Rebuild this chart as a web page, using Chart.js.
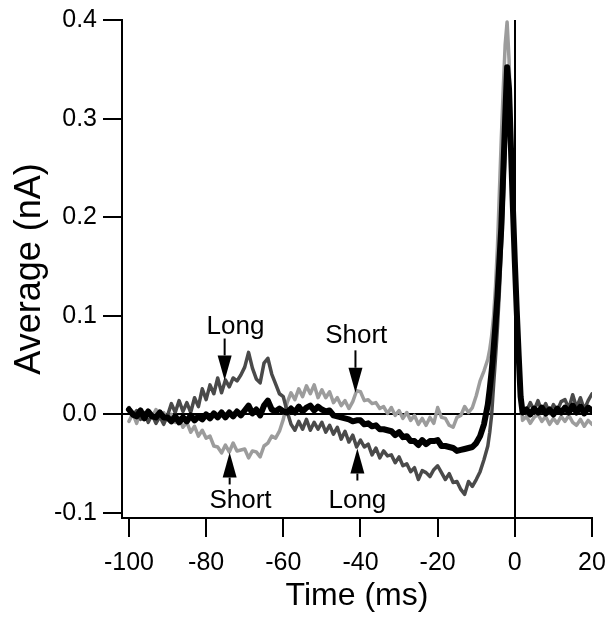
<!DOCTYPE html>
<html><head><meta charset="utf-8">
<script src="https://cdn.jsdelivr.net/npm/chart.js@4/dist/chart.umd.min.js"></script>
<style>html,body{margin:0;padding:0;background:#fff}canvas{display:block}</style>
</head><body>
<canvas id="c" width="613" height="623"></canvas>
<script>
// Time (ms)
const times = [
  -100,-99,-98,-97,-96,-95,-94,-93,-92,-91,
  -90,-89,-88,-87,-86,-85,-84,-83,-82,-81,
  -80,-79,-78,-77,-76,-75,-74,-73,-72,-71,
  -70,-69,-68,-67,-66,-65,-64,-63,-62,-61,
  -60,-59,-58,-57,-56,-55,-54,-53,-52,-51,
  -50,-49,-48,-47,-46,-45,-44,-43,-42,-41,
  -40,-39,-38,-37,-36,-35,-34,-33,-32,-31,
  -30,-29,-28,-27,-26,-25,-24,-23,-22,-21,
  -20,-19,-18,-17,-16,-15,-14,-13,-12,-11,
  -10,-9,-8,-7,-6.5,-6,-5.5,-5,-4.5,-4,-3.5,-3,-2.5,-2,-1.5,-1,-0.5,0,0.5,1,1.5,2,
  3,4,5,6,7,8,9,10,11,12,13,14,15,16,17,18,19,20
];
// "Long" trace (dark gray), nA
const longTrace = [
  0.007,-0.001,0.004,-0.005,0.002,-0.008,0.000,-0.009,-0.002,-0.010,
  -0.001,0.011,0.002,0.014,0.003,0.012,0.002,0.017,0.008,0.026,
  0.015,0.030,0.021,0.037,0.022,0.035,0.028,0.037,0.034,0.040,
  0.048,0.063,0.047,0.036,0.032,0.052,0.057,0.041,0.031,0.021,
  0.018,0.003,-0.010,-0.016,-0.007,-0.015,-0.005,-0.016,-0.008,-0.015,
  -0.008,-0.018,-0.011,-0.020,-0.013,-0.025,-0.017,-0.028,-0.021,-0.033,
  -0.026,-0.033,-0.030,-0.041,-0.034,-0.044,-0.037,-0.042,-0.041,-0.049,
  -0.043,-0.052,-0.050,-0.058,-0.054,-0.066,-0.057,-0.059,-0.063,-0.056,
  -0.052,-0.059,-0.066,-0.060,-0.069,-0.068,-0.076,-0.081,-0.068,-0.073,
  -0.066,-0.058,-0.046,-0.032,-0.018,0.000,0.030,0.058,0.088,0.125,0.168,0.215,0.270,0.335,0.325,0.260,0.200,0.145,0.095,0.050,0.015,0.007,
  0.003,0.012,0.004,0.014,0.003,0.011,0.001,0.010,0.004,0.013,0.015,0.006,0.020,0.007,0.017,0.005,0.014,0.021
];
// "Short" trace (light gray), nA
const shortTrace = [
  -0.007,0.001,-0.009,0.003,-0.005,0.004,-0.003,0.005,-0.004,0.002,
  -0.005,0.000,-0.008,-0.003,-0.013,-0.008,-0.018,-0.012,-0.022,-0.016,
  -0.024,-0.022,-0.032,-0.033,-0.039,-0.031,-0.038,-0.029,-0.037,-0.036,
  -0.035,-0.044,-0.037,-0.038,-0.043,-0.032,-0.029,-0.022,-0.024,-0.017,
  -0.005,0.012,0.022,0.015,0.026,0.018,0.029,0.021,0.030,0.017,
  0.025,0.017,0.023,0.012,0.017,0.009,0.014,0.006,0.013,0.024,
  0.023,0.014,0.015,0.011,0.012,0.006,0.008,0.001,0.007,-0.001,
  0.004,-0.004,0.002,-0.006,-0.001,-0.010,-0.004,-0.011,-0.003,-0.009,
  0.007,-0.003,-0.004,-0.011,-0.013,-0.003,-0.001,0.008,0.002,0.007,
  0.019,0.034,0.044,0.056,0.066,0.080,0.100,0.130,0.170,0.225,0.280,0.330,0.375,0.398,0.360,0.290,0.220,0.160,0.110,0.065,0.020,-0.006,
  -0.002,-0.009,-0.003,0.000,-0.007,-0.002,-0.010,-0.004,-0.009,-0.002,-0.007,-0.001,-0.008,-0.011,-0.005,-0.012,-0.006,-0.010
];
// Average trace (black), nA
const averageTrace = [
  0.005,0.000,-0.002,0.004,-0.004,0.003,-0.002,-0.003,0.002,-0.003,
  -0.003,-0.007,-0.002,-0.008,-0.003,-0.007,-0.001,-0.006,-0.002,-0.005,
  0.000,-0.004,0.001,-0.003,0.002,-0.003,0.002,-0.002,0.003,-0.001,
  0.004,0.009,0.001,0.005,-0.001,0.009,0.014,0.005,0.003,0.006,
  0.003,0.002,0.006,0.002,0.008,0.003,0.007,0.009,0.004,0.008,
  0.005,0.003,0.004,-0.001,-0.002,-0.003,-0.004,-0.005,-0.007,-0.006,
  -0.006,-0.010,-0.009,-0.012,-0.011,-0.015,-0.015,-0.016,-0.017,-0.021,
  -0.018,-0.023,-0.022,-0.027,-0.027,-0.031,-0.026,-0.030,-0.027,-0.027,
  -0.026,-0.032,-0.032,-0.033,-0.034,-0.037,-0.036,-0.035,-0.034,-0.033,
  -0.029,-0.022,-0.010,0.010,0.026,0.044,0.066,0.092,0.120,0.155,0.190,0.245,0.300,0.352,0.330,0.270,0.210,0.155,0.105,0.060,0.018,0.002,
  0.005,0.000,0.006,0.002,0.007,0.001,0.005,0.000,0.006,0.002,0.007,0.002,0.009,0.002,0.008,0.001,0.007,0.004
];
const xTickValues = [-100,-80,-60,-40,-20,0,20];
const xTickLabels = ['-100','-80','-60','-40','-20','0','20'];
const yTickValues = [-0.1,0,0.1,0.2,0.3,0.4];
const yTickLabels = ['-0.1','0.0','0.1','0.2','0.3','0.4'];
const annotationTexts = ['Long','Short','Short','Long'];
// arrow x (ms), tip / tail (nA), text anchor (ms, nA baseline)
const annotations = [
  {text: annotationTexts[0], arrowX: -75.2, tipY: 0.0345, tailY: 0.077, textX: -72.4, textY: 0.082},
  {text: annotationTexts[1], arrowX: -41.3, tipY: 0.022, tailY: 0.065, textX: -41.1, textY: 0.072},
  {text: annotationTexts[2], arrowX: -73.9, tipY: -0.0386, tailY: -0.071, textX: -71.1, textY: -0.0944},
  {text: annotationTexts[3], arrowX: -40.8, tipY: -0.0345, tailY: -0.067, textX: -40.8, textY: -0.0944}
];

const FONT = '"Liberation Sans", Arial, Helvetica, sans-serif';
const toXY = arr => times.map((t, i) => ({x: t, y: arr[i]}));

const annotPlugin = {
  id: 'annot',
  afterDatasetsDraw(chart) {
    const {ctx, scales: {x, y}} = chart;
    ctx.save();
    ctx.fillStyle = '#000'; ctx.strokeStyle = '#000'; ctx.lineWidth = 2;
    ctx.font = '26px ' + FONT;
    ctx.textAlign = 'center'; ctx.textBaseline = 'alphabetic';
    annotations.forEach(a => {
      const ax = x.getPixelForValue(a.arrowX);
      const tip = y.getPixelForValue(a.tipY);
      const tail = y.getPixelForValue(a.tailY);
      const dir = Math.sign(tip - tail);
      const headLen = 25, headHalf = 7;
      const base = tip - dir * headLen;
      ctx.beginPath(); ctx.moveTo(ax, tail); ctx.lineTo(ax, base); ctx.stroke();
      ctx.beginPath(); ctx.moveTo(ax, tip); ctx.lineTo(ax - headHalf, base); ctx.lineTo(ax + headHalf, base); ctx.closePath(); ctx.fill();
      ctx.fillText(a.text, x.getPixelForValue(a.textX), y.getPixelForValue(a.textY));
    });
    ctx.restore();
  }
};

const zeroGrid = c => (c.tick && c.tick.value === 0) ? '#000' : 'rgba(0,0,0,0)';

new Chart(document.getElementById('c'), {
  type: 'line',
  data: {
    datasets: [
      {label: 'Average', data: toXY(averageTrace), borderColor: '#000000', borderWidth: 6},
      {label: 'Long', data: toXY(longTrace), borderColor: '#4a4a4a', borderWidth: 3.5},
      {label: 'Short', data: toXY(shortTrace), borderColor: '#9c9c9c', borderWidth: 3.5}
    ]
  },
  options: {
    responsive: false,
    animation: false,
    devicePixelRatio: 1,
    elements: {point: {radius: 0}, line: {tension: 0, borderJoinStyle: 'round', borderCapStyle: 'round'}},
    plugins: {legend: {display: false}, tooltip: {enabled: false}},
    layout: {padding: {top: 20, right: 21, bottom: 0, left: 0}},
    scales: {
      x: {
        type: 'linear', min: -101.8, max: 20,
        afterBuildTicks: s => { s.ticks = xTickValues.map(v => ({value: v})); },
        afterFit: s => { s.height = 105; s.paddingLeft = 0; s.paddingRight = 0; },
        ticks: {color: '#000', font: {family: FONT, size: 25}, padding: 11, maxRotation: 0, autoSkip: false,
          callback: (v, i) => xTickLabels[i]},
        grid: {color: zeroGrid, tickColor: '#000', lineWidth: 2, tickLength: 19, drawOnChartArea: true},
        border: {color: '#000', width: 2},
        title: {display: true, text: 'Time (ms)', color: '#000', font: {family: FONT, size: 32}, padding: {top: 0, bottom: 8}}
      },
      y: {
        type: 'linear', min: -0.105, max: 0.4,
        afterBuildTicks: s => { s.ticks = yTickValues.map(v => ({value: v})); },
        afterFit: s => { s.width = 122; s.paddingTop = 0; s.paddingBottom = 0; },
        ticks: {color: '#000', font: {family: FONT, size: 25}, padding: 6, autoSkip: false,
          callback: (v, i) => yTickLabels[i]},
        grid: {color: zeroGrid, tickColor: '#000', lineWidth: 2, tickLength: 19, drawOnChartArea: true},
        border: {color: '#000', width: 2},
        title: {display: true, text: 'Average (nA)', color: '#000', font: {family: FONT, size: 36}, padding: {top: 8, bottom: 0}}
      }
    }
  },
  plugins: [annotPlugin]
});
</script>
</body></html>
